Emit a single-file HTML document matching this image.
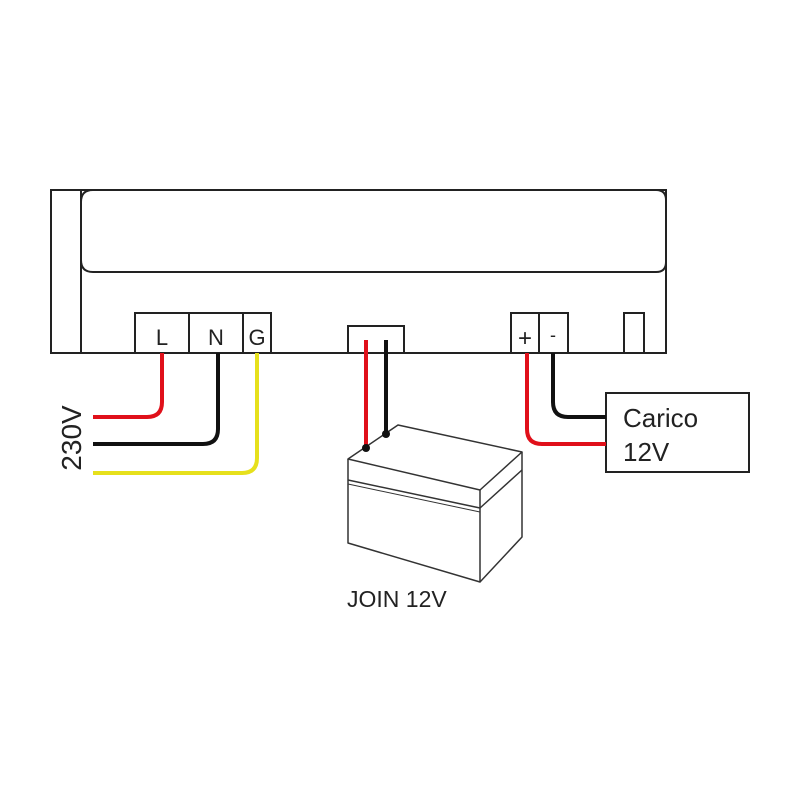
<!DOCTYPE html>
<html><head><meta charset="utf-8"><style>
html,body{margin:0;padding:0;background:#fff;}
</style></head><body>
<svg width="800" height="800" viewBox="0 0 800 800" xmlns="http://www.w3.org/2000/svg" font-family="Liberation Sans, sans-serif">
<rect width="800" height="800" fill="#fff"/>
<g fill="none" stroke="#222" stroke-width="2">
<path d="M51 190 H666 V353 H51 Z"/>
<line x1="81" y1="190" x2="81" y2="353"/>
<path d="M81 190 H656 Q666 190 666 200 V262 Q666 272 656 272 H93 Q81 272 81 260 V202 Q81 190 93 190"/>
<rect x="135" y="313" width="136" height="40" fill="#fff"/>
<line x1="189" y1="313" x2="189" y2="353"/>
<line x1="243" y1="313" x2="243" y2="353"/>
<rect x="348" y="326" width="56" height="27" fill="#fff"/>
<rect x="511" y="313" width="57" height="40" fill="#fff"/>
<line x1="539" y1="313" x2="539" y2="353"/>
<rect x="624" y="313" width="20" height="40" fill="#fff"/>
<rect x="606" y="393" width="143" height="79" fill="#fff"/>
</g>
<g fill="none" stroke-width="4" stroke-linecap="butt">
<path d="M162 353 V402 Q162 417 147 417 H93" stroke="#e0101a"/>
<path d="M218 353 V429 Q218 444 203 444 H93" stroke="#111"/>
<path d="M257 353 V458 Q257 473 242 473 H93" stroke="#e6e01c"/>
<line x1="366" y1="340" x2="366" y2="448" stroke="#e0101a"/>
<line x1="386" y1="340" x2="386" y2="434" stroke="#111"/>
<path d="M527 353 V429 Q527 444 542 444 H606" stroke="#e0101a"/>
<path d="M553 353 V402 Q553 417 568 417 H606" stroke="#111"/>
</g>
<g fill="none" stroke="#333" stroke-width="1.5" stroke-linejoin="round">
<path d="M348 459 L398 425 L522 452 L480 490 Z"/>
<path d="M348 459 V543 L480 582 V490"/>
<path d="M480 582 L522 537 V452"/>
<path d="M348 480 L480 508 L522 470"/>
<path d="M348 484 L480 512" stroke-width="1"/>
</g>
<circle cx="366" cy="448" r="4" fill="#111"/>
<circle cx="386" cy="434" r="4" fill="#111"/>
<g fill="#222">
<text x="162" y="345" font-size="22" text-anchor="middle">L</text>
<text x="216" y="345" font-size="22" text-anchor="middle">N</text>
<text x="257" y="345" font-size="22" text-anchor="middle">G</text>
<text x="525" y="346" font-size="24" text-anchor="middle">+</text>
<text x="553" y="341" font-size="18" text-anchor="middle">-</text>
<text x="623" y="427" font-size="26">Carico</text>
<text x="623" y="461" font-size="26">12V</text>
<text x="347" y="607" font-size="23">JOIN 12V</text>
<text transform="translate(81,438) rotate(-90)" font-size="28" text-anchor="middle">230V</text>
</g>
</svg>
</body></html>
